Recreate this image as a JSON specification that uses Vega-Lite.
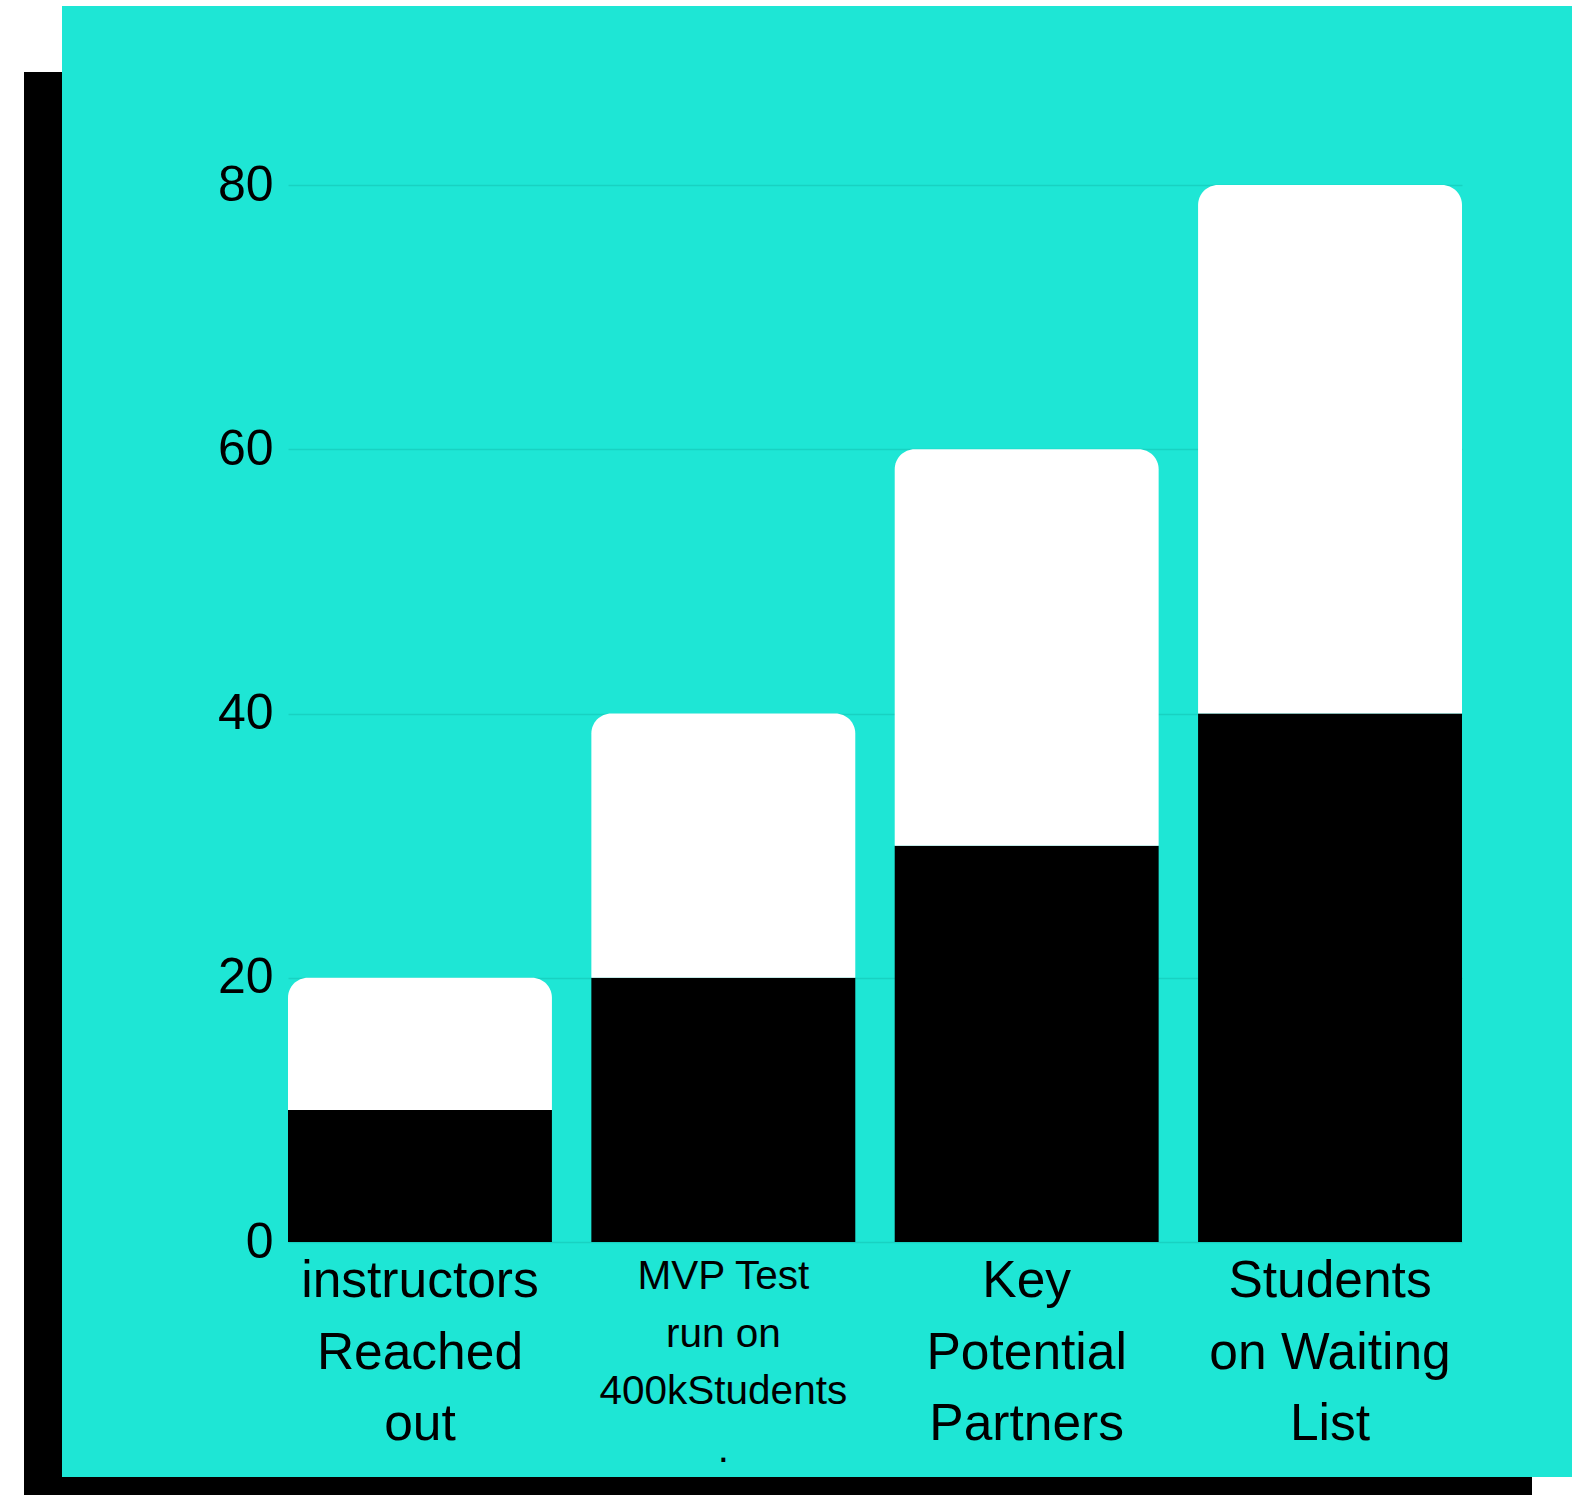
{
  "$schema": "https://vega.github.io/schema/vega-lite/v6.json",
  "width": 1174,
  "height": 1057,
  "autosize": "none",
  "padding": {"left": 288, "top": 185, "right": 110, "bottom": 253},
  "background": "#1ee6d5",
  "config": {"view": {"stroke": null}, "font": "Liberation Sans"},
  "resolve": {"scale": {"x": "independent"}, "axis": {"x": "independent"}},
  "layer": [
    {
      "data": {"values": [{}]},
      "layer": [
        {
          "mark": {"type": "rect", "color": "white", "clip": false},
          "encoding": {
            "x": {"datum": -300, "type": "quantitative", "scale": {"domain": [0, 1174]}, "axis": null},
            "x2": {"datum": -264},
            "y": {"datum": -30, "type": "quantitative", "scale": {"domain": [0, 80]}, "title": null},
            "y2": {"datum": 100}
          }
        },
        {
          "mark": {"type": "rect", "color": "white", "clip": false},
          "encoding": {
            "x": {"datum": -300, "type": "quantitative", "scale": {"domain": [0, 1174]}, "axis": null},
            "x2": {"datum": -226},
            "y": {"datum": 88.55, "type": "quantitative", "scale": {"domain": [0, 80]}, "title": null},
            "y2": {"datum": 100}
          }
        },
        {
          "mark": {"type": "rect", "color": "white", "clip": false},
          "encoding": {
            "x": {"datum": -300, "type": "quantitative", "scale": {"domain": [0, 1174]}, "axis": null},
            "x2": {"datum": 1300},
            "y": {"datum": 93.55, "type": "quantitative", "scale": {"domain": [0, 80]}, "title": null},
            "y2": {"datum": 100}
          }
        },
        {
          "mark": {"type": "rect", "color": "black", "clip": false},
          "encoding": {
            "x": {"datum": -264, "type": "quantitative", "scale": {"domain": [0, 1174]}, "axis": null},
            "x2": {"datum": -226},
            "y": {"datum": 88.55, "type": "quantitative", "scale": {"domain": [0, 80]}, "title": null},
            "y2": {"datum": -30}
          }
        },
        {
          "mark": {"type": "rect", "color": "black", "clip": false},
          "encoding": {
            "x": {"datum": -264, "type": "quantitative", "scale": {"domain": [0, 1174]}, "axis": null},
            "x2": {"datum": 1244},
            "y": {"datum": -17.79, "type": "quantitative", "scale": {"domain": [0, 80]}, "title": null},
            "y2": {"datum": -30}
          }
        },
        {
          "mark": {"type": "rect", "color": "white", "clip": false},
          "encoding": {
            "x": {"datum": 1244, "type": "quantitative", "scale": {"domain": [0, 1174]}, "axis": null},
            "x2": {"datum": 1300},
            "y": {"datum": -17.79, "type": "quantitative", "scale": {"domain": [0, 80]}, "title": null},
            "y2": {"datum": -30}
          }
        }
      ]
    },
    {
      "data": {
        "values": [
          {"cat": "instructors Reached out", "lines": ["instructors", "Reached", "out"], "low": 10, "high": 20},
          {"cat": "MVP Test run on 400kStudents .", "lines": ["MVP Test", "run on", "400kStudents", "."], "low": 20, "high": 40},
          {"cat": "Key Potential Partners", "lines": ["Key", "Potential", "Partners"], "low": 30, "high": 60},
          {"cat": "Students on Waiting List", "lines": ["Students", "on Waiting", "List"], "low": 40, "high": 80}
        ]
      },
      "encoding": {
        "x": {
          "field": "cat",
          "type": "nominal",
          "sort": null,
          "scale": {"paddingInner": 0.13, "paddingOuter": 0},
          "axis": {
            "title": null,
            "labels": false,
            "domain": false,
            "ticks": false,
            "grid": false
          }
        }
      },
      "layer": [
        {
          "mark": {"type": "bar", "color": "black"},
          "encoding": {
            "y": {
              "field": "low",
              "type": "quantitative",
              "scale": {"domain": [0, 80]},
              "axis": {
                "title": null,
                "values": [0, 20, 40, 60, 80],
                "labelFontSize": 50,
                "labelColor": "black",
                "labelPadding": 15,
                "domain": false,
                "ticks": false,
                "grid": true,
                "gridColor": "#18d2c2",
                "gridWidth": 1.5
              }
            }
          }
        },
        {
          "mark": {"type": "bar", "color": "white", "cornerRadiusTopLeft": 20, "cornerRadiusTopRight": 20},
          "encoding": {
            "y": {"field": "low", "type": "quantitative", "scale": {"domain": [0, 80]}, "title": null},
            "y2": {"field": "high"}
          }
        },
        {
          "transform": [{"filter": "indexof(datum.cat, 'MVP') < 0"}],
          "mark": {"type": "text", "baseline": "top", "align": "center", "dy": 14, "fontSize": 51.5, "lineHeight": 71.5, "color": "black", "clip": false},
          "encoding": {
            "y": {"datum": 0, "type": "quantitative", "scale": {"domain": [0, 80]}, "title": null},
            "text": {"field": "lines"}
          }
        },
        {
          "transform": [{"filter": "indexof(datum.cat, 'MVP') >= 0"}],
          "mark": {"type": "text", "baseline": "top", "align": "center", "dy": 15, "fontSize": 40.5, "lineHeight": 57.5, "color": "black", "clip": false},
          "encoding": {
            "y": {"datum": 0, "type": "quantitative", "scale": {"domain": [0, 80]}, "title": null},
            "text": {"field": "lines"}
          }
        }
      ]
    }
  ]
}
